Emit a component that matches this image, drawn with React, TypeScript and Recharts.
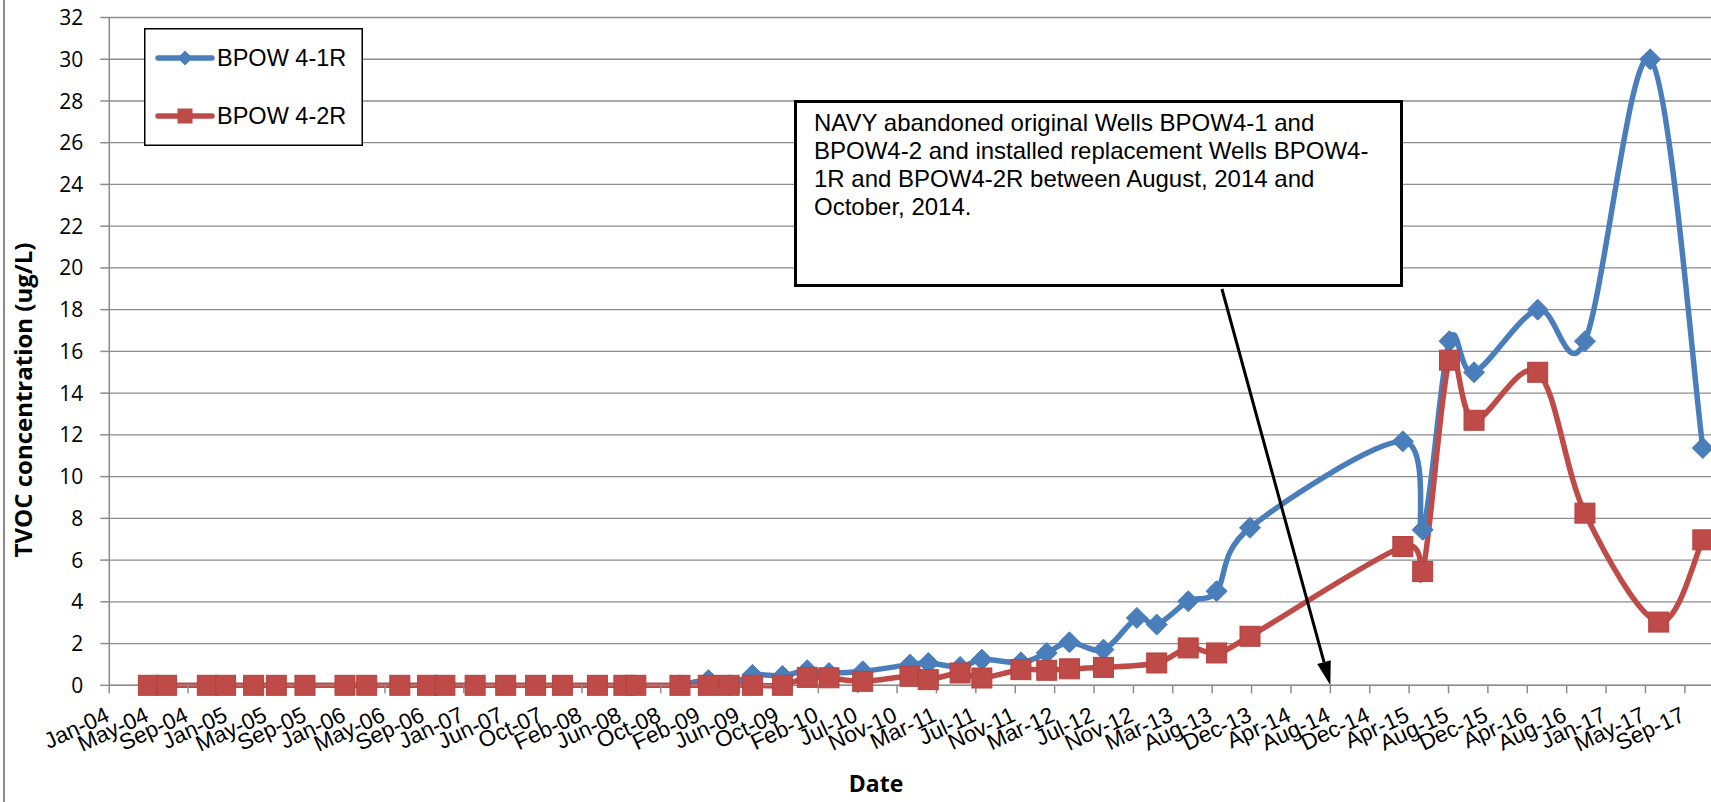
import {
  LineChart,
  Line,
  XAxis,
  YAxis,
  CartesianGrid,
  Legend,
  Label,
  ReferenceLine,
} from "recharts";

// x axis labels, one every 125 days from Jan-04 (Excel date axis)
const TICK_LABELS = [
  "Jan-04", "May-04", "Sep-04", "Jan-05", "May-05", "Sep-05", "Jan-06",
  "May-06", "Sep-06", "Jan-07", "Jun-07", "Oct-07", "Feb-08", "Jun-08",
  "Oct-08", "Feb-09", "Jun-09", "Oct-09", "Feb-10", "Jul-10", "Nov-10",
  "Mar-11", "Jul-11", "Nov-11", "Mar-12", "Jul-12", "Nov-12", "Mar-13",
  "Aug-13", "Dec-13", "Apr-14", "Aug-14", "Dec-14", "Apr-15", "Aug-15",
  "Dec-15", "Apr-16", "Aug-16", "Jan-17", "May-17", "Sep-17",
];
const TICK_STEP_DAYS = 125;
const Y_TICKS = [0, 2, 4, 6, 8, 10, 12, 14, 16, 18, 20, 22, 24, 26, 28, 30, 32];

// BPOW 4-1R
const BLUE_DATES = [
  "2008-12-16", "2009-03-16", "2009-05-21", "2009-08-03", "2009-11-06",
  "2010-01-24", "2010-04-03", "2010-07-19", "2010-12-16", "2011-02-12",
  "2011-05-24", "2011-08-01", "2011-12-03", "2012-02-23", "2012-05-05",
  "2012-08-21", "2012-12-05", "2013-02-06", "2013-05-17", "2013-08-15",
  "2013-11-29", "2015-03-29", "2015-05-31", "2015-08-24", "2015-11-10",
  "2016-05-30", "2016-10-27", "2017-05-22", "2017-11-05",
];
const BLUE_VALUES = [
  0, 0.25, 0, 0.5, 0.45,
  0.72, 0.59, 0.67, 0.99, 1.07,
  0.88, 1.23, 1.1, 1.55, 2.06,
  1.71, 3.23, 2.91, 4.03, 4.51,
  7.55, 11.69, 7.45, 16.49, 15.0,
  18.0, 16.49, 30.0, 11.37,
];

// BPOW 4-2R
const RED_DATES = [
  "2004-05-04", "2004-07-01", "2004-11-07", "2005-01-04", "2005-04-03",
  "2005-06-14", "2005-09-13", "2006-01-18", "2006-03-28", "2006-07-11",
  "2006-10-07", "2006-12-01", "2007-03-07", "2007-06-12", "2007-09-15",
  "2007-12-09", "2008-03-29", "2008-06-21", "2008-07-29", "2008-12-16",
  "2009-03-16", "2009-05-21", "2009-08-03", "2009-11-06", "2010-01-24",
  "2010-04-03", "2010-07-19", "2010-12-16", "2011-02-12", "2011-05-24",
  "2011-08-01", "2011-12-03", "2012-02-23", "2012-05-05", "2012-08-21",
  "2013-02-06", "2013-05-17", "2013-08-15", "2013-11-29", "2015-03-29",
  "2015-05-31", "2015-08-24", "2015-11-10", "2016-05-30", "2016-10-27",
  "2017-06-18", "2017-11-05",
];
const RED_VALUES = [
  0, 0, 0, 0, 0,
  0, 0, 0, 0, 0,
  0, 0, 0, 0, 0,
  0, 0, 0, 0, 0,
  0, 0, 0, 0, 0.38,
  0.36, 0.19, 0.43, 0.27, 0.59,
  0.35, 0.75, 0.72, 0.79, 0.86,
  1.07, 1.79, 1.55, 2.35, 6.65,
  5.45, 15.58, 12.7, 15.0, 8.25,
  3.03, 6.97,
];

const NOTE_LINES = [
  "NAVY abandoned original Wells BPOW4-1 and",
  "BPOW4-2 and installed replacement Wells BPOW4-",
  "1R and BPOW4-2R between August, 2014 and",
  "October, 2014.",
];

const ORIGIN = Date.UTC(2004, 0, 1);
const toDay = (s: string) => (Date.parse(s) - ORIGIN) / 86400000;

const blueData = BLUE_DATES.map((d, i) => ({ t: toDay(d), v: BLUE_VALUES[i] }));
const redData = RED_DATES.map((d, i) => ({ t: toDay(d), v: RED_VALUES[i] }));
const xTicks = TICK_LABELS.map((_, i) => i * TICK_STEP_DAYS);

const BLUE = "#4A7EBB";
const RED = "#BE4B48";
const GRID = "#8c8c8c";

// Excel-like smoothed line (Catmull-Rom through the points)
function excelCurve(context: any) {
  let pts: number[][] = [];
  return {
    areaStart() {},
    areaEnd() {},
    lineStart() {
      pts = [];
    },
    lineEnd() {
      if (!pts.length) return;
      context.moveTo(pts[0][0], pts[0][1]);
      for (let i = 0; i < pts.length - 1; i++) {
        const p0 = pts[Math.max(i - 1, 0)];
        const p1 = pts[i];
        const p2 = pts[i + 1];
        const p3 = pts[Math.min(i + 2, pts.length - 1)];
        context.bezierCurveTo(
          p1[0] + (p2[0] - p0[0]) / 6,
          p1[1] + (p2[1] - p0[1]) / 6,
          p2[0] - (p3[0] - p1[0]) / 6,
          p2[1] - (p3[1] - p1[1]) / 6,
          p2[0],
          p2[1]
        );
      }
    },
    point(x: number, y: number) {
      pts.push([+x, +y]);
    },
  };
}

const Diamond = (p: any) => {
  const { cx, cy, index } = p;
  if (cx == null || cy == null) return <g key={index} />;
  const r = 10.5;
  return (
    <path
      key={index}
      d={`M${cx},${cy - r}L${cx + r},${cy}L${cx},${cy + r}L${cx - r},${cy}Z`}
      fill={BLUE}
      stroke={BLUE}
    />
  );
};

const Square = (p: any) => {
  const { cx, cy, index } = p;
  if (cx == null || cy == null) return <g key={index} />;
  return (
    <rect
      key={index}
      x={cx - 10}
      y={cy - 10}
      width={20}
      height={20}
      fill={RED}
      stroke="#B5423F"
    />
  );
};

const XTick = (p: any) => {
  const { x, y, payload } = p;
  const idx = Math.round(payload.value / TICK_STEP_DAYS);
  const tx = x + 1.5;
  const ty = y + 27;
  return (
    <text
      x={tx}
      y={ty}
      textAnchor="end"
      transform={`rotate(-25 ${tx} ${ty})`}
      fontSize={22.5}
      fontFamily="'Liberation Sans', Arial, sans-serif"
      fill="#000"
    >
      {TICK_LABELS[idx]}
    </text>
  );
};

const YTick = (p: any) => {
  const { x, y, payload } = p;
  return (
    <text
      x={x}
      y={y}
      dy="0.36em"
      textAnchor="end"
      fontSize={21}
      fontFamily="'Open Sans', sans-serif"
      fill="#000"
    >
      {payload.value}
    </text>
  );
};

const Arrow = (p: any) => {
  const { x1, y1, x2, y2 } = p;
  if ([x1, y1, x2, y2].some((v) => v == null)) return <g />;
  const dx = x2 - x1;
  const dy = y2 - y1;
  const len = Math.sqrt(dx * dx + dy * dy);
  const ux = dx / len;
  const uy = dy / len;
  const head = 24;
  const half = 7;
  const bx = x2 - ux * head;
  const by = y2 - uy * head;
  return (
    <g>
      <line x1={x1} y1={y1} x2={bx} y2={by} stroke="#000" strokeWidth={3} />
      <polygon
        points={`${x2},${y2} ${bx - uy * half},${by + ux * half} ${bx + uy * half},${by - ux * half}`}
        fill="#000"
      />
    </g>
  );
};

const LegendBox = () => (
  <svg width={219} height={118} style={{ display: "block" }}>
    <rect x={0.75} y={0.75} width={217.5} height={116.5} fill="#fff" stroke="#000" strokeWidth={1.5} />
    <line x1={14} y1={30} x2={68} y2={30} stroke={BLUE} strokeWidth={5.5} strokeLinecap="round" />
    <path d="M41,22.5L48.5,30L41,37.5L33.5,30Z" fill={BLUE} />
    <text x={73} y={38} fontSize={23.5} fontFamily="'Liberation Sans', Arial, sans-serif" fill="#000">
      BPOW 4-1R
    </text>
    <line x1={14} y1={88} x2={68} y2={88} stroke={RED} strokeWidth={5.5} strokeLinecap="round" />
    <rect x={33.5} y={80.5} width={15} height={15} fill={RED} />
    <text x={73} y={96} fontSize={23.5} fontFamily="'Liberation Sans', Arial, sans-serif" fill="#000">
      BPOW 4-2R
    </text>
  </svg>
);

export default function App() {
  return (
    <div
      style={{
        position: "absolute",
        left: 0,
        top: 0,
        width: 1711,
        height: 802,
        overflow: "hidden",
        background: "#fff",
      }}
    >
      <LineChart
        width={1711}
        height={802}
        margin={{ top: 17.5, right: 0, bottom: 0, left: 0 }}
      >
        <CartesianGrid vertical={false} stroke={GRID} strokeWidth={1.3} />
        <XAxis
          type="number"
          dataKey="t"
          domain={[0, 5083]}
          ticks={xTicks}
          interval={0}
          height={116.7}
          tick={<XTick />}
          tickSize={8}
          tickMargin={0}
          axisLine={{ stroke: GRID, strokeWidth: 1.5 }}
          tickLine={{ stroke: GRID, strokeWidth: 1.5 }}
        >
          <Label
            content={() => (
              <text
                x={876}
                y={792}
                textAnchor="middle"
                fontSize={23}
                fontWeight="bold"
                fontFamily="'Open Sans', sans-serif"
                fill="#000"
              >
                Date
              </text>
            )}
          />
        </XAxis>
        <YAxis
          type="number"
          domain={[0, 32]}
          ticks={Y_TICKS}
          interval={0}
          width={109.3}
          tick={<YTick />}
          tickSize={9}
          tickMargin={17}
          axisLine={{ stroke: GRID, strokeWidth: 1.5 }}
          tickLine={{ stroke: GRID, strokeWidth: 1.5 }}
        >
          <Label
            content={() => (
              <text
                x={22}
                y={400}
                transform="rotate(-90 22 400)"
                textAnchor="middle"
                dominantBaseline="central"
                fontSize={24}
                fontWeight="bold"
                fontFamily="'Open Sans', sans-serif"
                fill="#000"
              >
                TVOC concentration (ug/L)
              </text>
            )}
          />
        </YAxis>
        <Legend
          layout="horizontal"
          verticalAlign="middle"
          align="center"
          content={() => <LegendBox />}
          wrapperStyle={{ left: 144, top: 28, width: 219, height: 118 }}
        />
        <Line
          data={blueData}
          dataKey="v"
          name="BPOW 4-1R"
          type={excelCurve as any}
          stroke={BLUE}
          strokeWidth={5.5}
          dot={Diamond}
          activeDot={false}
          isAnimationActive={false}
        />
        <Line
          data={redData}
          dataKey="v"
          name="BPOW 4-2R"
          type={excelCurve as any}
          stroke={RED}
          strokeWidth={5.5}
          dot={Square}
          activeDot={false}
          isAnimationActive={false}
        />
        <ReferenceLine
          segment={[
            { x: toDay("2013-09-01"), y: 18.99 },
            { x: 31 * TICK_STEP_DAYS, y: 0 },
          ]}
          shape={Arrow}
          ifOverflow="visible"
        />
      </LineChart>
      <div
        style={{
          position: "absolute",
          left: 3,
          top: 0,
          width: 0,
          height: 802,
          borderLeft: "2px solid #8a8a8a",
        }}
      />
      <div
        style={{
          position: "absolute",
          left: 794,
          top: 100,
          width: 609,
          height: 187,
          boxSizing: "border-box",
          border: "3px solid #000",
          background: "#fff",
          padding: "6px 0 0 17px",
          fontFamily: "'Liberation Sans', Arial, sans-serif",
          fontSize: 24,
          lineHeight: "28px",
          color: "#000",
        }}
      >
        {NOTE_LINES.map((l) => (
          <div key={l} style={{ whiteSpace: "nowrap" }}>
            {l}
          </div>
        ))}
      </div>
    </div>
  );
}
